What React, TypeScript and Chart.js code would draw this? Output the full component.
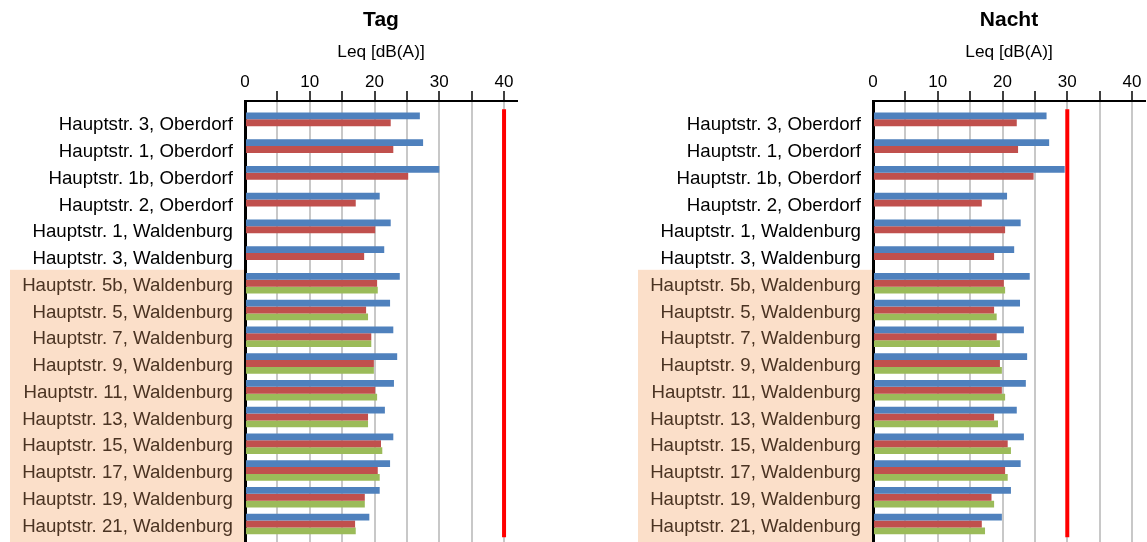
import React, { useEffect, useRef } from 'react';
import { Chart, registerables } from 'chart.js';

Chart.register(...registerables);

const categories = [
  'Hauptstr. 3, Oberdorf',
  'Hauptstr. 1, Oberdorf',
  'Hauptstr. 1b, Oberdorf',
  'Hauptstr. 2, Oberdorf',
  'Hauptstr. 1, Waldenburg',
  'Hauptstr. 3, Waldenburg',
  'Hauptstr. 5b, Waldenburg',
  'Hauptstr. 5, Waldenburg',
  'Hauptstr. 7, Waldenburg',
  'Hauptstr. 9, Waldenburg',
  'Hauptstr. 11, Waldenburg',
  'Hauptstr. 13, Waldenburg',
  'Hauptstr. 15, Waldenburg',
  'Hauptstr. 17, Waldenburg',
  'Hauptstr. 19, Waldenburg',
  'Hauptstr. 21, Waldenburg',
];

const tagBlue = [27.0, 27.5, 30.0, 20.8, 22.5, 21.5, 23.9, 22.4, 22.9, 23.5, 23.0, 21.6, 22.9, 22.4, 20.8, 19.2];
const tagRed = [22.5, 22.9, 25.2, 17.1, 20.1, 18.4, 20.4, 18.7, 19.5, 19.9, 20.1, 19.0, 21.0, 20.5, 18.5, 17.0];
const tagGreen = [null, null, null, null, null, null, 20.5, 19.0, 19.5, 19.9, 20.4, 19.0, 21.2, 20.8, 18.5, 17.1];

const nachtBlue = [26.8, 27.2, 29.6, 20.7, 22.8, 21.8, 24.2, 22.7, 23.3, 23.8, 23.6, 22.2, 23.3, 22.8, 21.3, 19.9];
const nachtRed = [22.2, 22.4, 24.8, 16.8, 20.4, 18.7, 20.2, 18.7, 19.1, 19.6, 19.9, 18.7, 20.8, 20.4, 18.3, 16.8];
const nachtGreen = [null, null, null, null, null, null, 20.4, 19.1, 19.6, 19.9, 20.4, 19.3, 21.3, 20.8, 18.7, 17.3];

const tagLimit = 40;
const nachtLimit = 30;

const xTickValues = [0, 5, 10, 15, 20, 25, 30, 35, 40];
const xLabelValues = [0, 10, 20, 30, 40];
const xMax = 42;

const FONT = '"Liberation Sans", Arial, sans-serif';
const BROWN = '#4a3322';

const decorPlugin = {
  id: 'decor',
  beforeDraw(chart: any, _args: any, opts: any) {
    const { ctx, chartArea, scales } = chart;
    const green: (number | null)[] = opts.green;
    const first = green.findIndex((v) => v != null);
    if (first >= 0) {
      const top = scales.y.getPixelForValue(first - 0.5);
      ctx.save();
      ctx.fillStyle = '#fbdfc9';
      ctx.fillRect(chartArea.left - 235, top, 234, chart.height - top);
      ctx.restore();
    }
  },
  afterDraw(chart: any, _args: any, opts: any) {
    const { ctx, chartArea } = chart;
    const cx = (chartArea.left + chartArea.right) / 2;
    ctx.save();
    ctx.fillStyle = '#000';
    ctx.textAlign = 'center';
    ctx.textBaseline = 'alphabetic';
    ctx.font = `bold 21px ${FONT}`;
    ctx.fillText(opts.title, cx, chartArea.top - 75);
    ctx.font = `17.3px ${FONT}`;
    ctx.fillText(opts.subtitle, cx, chartArea.top - 44.5);
    ctx.restore();
  },
};

function Panel(props: {
  title: string;
  blue: number[];
  red: number[];
  green: (number | null)[];
  limit: number;
  left: number;
  width: number;
  yAxisWidth: number;
  padRight: number;
}) {
  const ref = useRef<HTMLCanvasElement>(null);
  useEffect(() => {
    const { blue, red, green, limit } = props;
    const toPts = (arr: (number | null)[]) => arr.map((v, i) => ({ x: v, y: i }));
    const chart = new Chart(ref.current as HTMLCanvasElement, {
      type: 'bar',
      data: {
        datasets: [
          {
            type: 'line',
            data: [
              { x: limit, y: -0.5 },
              { x: limit, y: categories.length - 0.5 },
            ],
            borderColor: '#ff0000',
            borderWidth: 4,
            pointRadius: 0,
            borderCapStyle: 'butt',
            order: -1,
          } as any,
          { data: toPts(blue), backgroundColor: '#4f81bd', borderWidth: 0 } as any,
          { data: toPts(red), backgroundColor: '#c0504d', borderWidth: 0 } as any,
          { data: toPts(green), backgroundColor: '#9bbb59', borderWidth: 0 } as any,
        ],
      },
      options: {
        indexAxis: 'y',
        responsive: false,
        animation: false,
        layout: { padding: { left: 0, right: props.padRight, top: 0, bottom: 0 } },
        datasets: { bar: { categoryPercentage: 0.77, barPercentage: 1.0 } } as any,
        plugins: {
          legend: { display: false },
          tooltip: { enabled: false },
          decor: { title: props.title, subtitle: 'Leq [dB(A)]', green },
        } as any,
        scales: {
          x: {
            type: 'linear',
            position: 'top',
            offset: false,
            min: 0,
            max: xMax,
            afterBuildTicks: (s: any) => {
              s.ticks = xTickValues.map((v) => ({ value: v }));
            },
            afterFit: (s: any) => {
              s.height = 101;
              s.paddingLeft = 0;
              s.paddingRight = 0;
            },
            grid: {
              offset: false,
              color: '#c8c8c8',
              lineWidth: 2,
              tickLength: 10,
              tickWidth: 1.5,
              tickColor: (c: any) => (c.tick && c.tick.value === 0 ? 'rgba(0,0,0,0)' : '#000'),
            },
            border: { display: true, color: '#000', width: 2 },
            ticks: {
              autoSkip: false,
              maxRotation: 0,
              padding: -2,
              color: '#000',
              font: { family: FONT, size: 17 },
              callback: (v: any) => (xLabelValues.includes(Number(v)) ? String(v) : ''),
            },
          },
          y: {
            type: 'linear',
            reverse: true,
            offset: false,
            min: -0.811,
            max: 15.675,
            afterBuildTicks: (s: any) => {
              s.ticks = categories.map((_, i) => ({ value: i }));
            },
            afterFit: (s: any) => {
              s.width = props.yAxisWidth;
              s.paddingTop = 0;
              s.paddingBottom = 0;
            },
            grid: { display: false, offset: false, drawTicks: false, tickLength: 0 },
            border: { display: true, color: '#000', width: 3 },
            ticks: {
              autoSkip: false,
              padding: 12,
              labelOffset: 2.5,
              font: { family: FONT, size: 18.67 },
              color: (c: any) => (c.tick && green[c.tick.value] != null ? BROWN : '#000'),
              callback: (v: any) => categories[Number(v)] ?? '',
            },
          },
        },
      } as any,
      plugins: [decorPlugin as any],
    });
    return () => chart.destroy();
  }, []);
  return (
    <canvas
      ref={ref}
      width={props.width}
      height={542}
      style={{ position: 'absolute', left: props.left, top: 0, width: props.width, height: 542 }}
    />
  );
}

export default function App() {
  return (
    <div
      style={{
        position: 'fixed',
        left: 0,
        top: 0,
        width: 1147,
        height: 542,
        overflow: 'hidden',
        background: '#fff',
      }}
    >
      <Panel
        title="Tag"
        blue={tagBlue}
        red={tagRed}
        green={tagGreen}
        limit={tagLimit}
        left={0}
        width={560}
        yAxisWidth={245}
        padRight={43}
      />
      <Panel
        title="Nacht"
        blue={nachtBlue}
        red={nachtRed}
        green={nachtGreen}
        limit={nachtLimit}
        left={600}
        width={547}
        yAxisWidth={273}
        padRight={2}
      />
    </div>
  );
}
